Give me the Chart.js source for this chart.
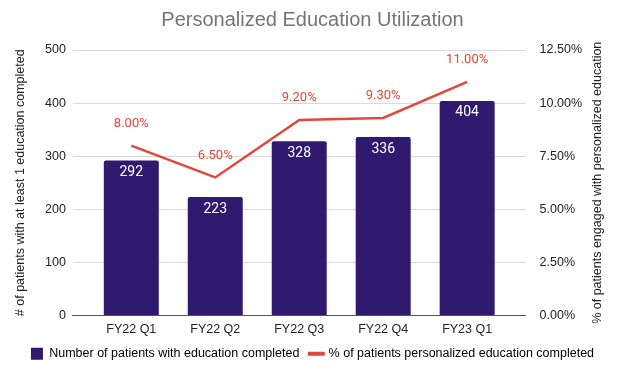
<!DOCTYPE html>
<html>
<head>
<meta charset="utf-8">
<script src="https://cdn.jsdelivr.net/npm/chart.js@4"></script>
<style>
  html, body { margin: 0; padding: 0; background: #fff; }
  #wrap { width: 620px; height: 374px; }
</style>
</head>
<body>
<div id="wrap"><canvas id="chart" width="620" height="374"></canvas></div>
<script>
const quarters = ["FY22 Q1", "FY22 Q2", "FY22 Q3", "FY22 Q4", "FY23 Q1"];
const patientsCompleted = [292, 223, 328, 336, 404];
const pctEngaged = [0.08, 0.065, 0.092, 0.093, 0.11];

const barColor = "#2f1a6f";
const lineColor = "#e0483c";
const font = "Arial, 'Liberation Sans', sans-serif";
const fs = 12.5;
const rightTitle = "% of patients engaged with personalized education";

// x is a linear scale so the plot can have some room left/right of the outer bars
const barPoints = patientsCompleted.map((v, i) => ({ x: i, y: v }));
const linePoints = pctEngaged.map((v, i) => ({ x: i, y: v }));

// value labels on bars / points, plus the right axis title (reads bottom-up like the left one)
const extras = {
  id: "extras",
  afterDatasetsDraw(chart) {
    const ctx = chart.ctx;
    ctx.save();
    ctx.textAlign = "center";
    ctx.textBaseline = "middle";
    ctx.font = "14px Roboto, " + font;
    chart.getDatasetMeta(1).data.forEach((bar, i) => {
      ctx.fillStyle = "#ffffff";
      ctx.fillText(patientsCompleted[i], bar.x, bar.y + 12);
    });
    ctx.font = "13px Roboto, " + font;
    chart.getDatasetMeta(0).data.forEach((pt, i) => {
      ctx.fillStyle = lineColor;
      ctx.fillText((pctEngaged[i] * 100).toFixed(2) + "%", pt.x, pt.y - 22);
    });

    const area = chart.chartArea;
    ctx.translate(598, (area.top + area.bottom) / 2);
    ctx.rotate(-Math.PI / 2);
    ctx.font = fs + "px " + font;
    ctx.fillStyle = "#222";
    ctx.fillText(rightTitle, 0, 0);
    ctx.restore();
  }
};

new Chart(document.getElementById("chart"), {
  data: {
    datasets: [
      {
        type: "line",
        label: "% of patients personalized education completed",
        data: linePoints,
        yAxisID: "y1",
        borderColor: lineColor,
        backgroundColor: lineColor,
        borderWidth: 2.5,
        pointRadius: 0,
        tension: 0,
        order: 0,
      },
      {
        type: "bar",
        label: "Number of patients with education completed",
        data: barPoints,
        yAxisID: "y",
        backgroundColor: barColor,
        borderRadius: 2,
        borderSkipped: "bottom",
        categoryPercentage: 1,
        barPercentage: 0.655,
        order: 1,
      },
    ],
  },
  options: {
    responsive: false,
    animation: false,
    layout: { padding: { left: 9, right: 4, top: 4, bottom: 4 } },
    plugins: {
      title: {
        display: true,
        text: "Personalized Education Utilization",
        color: "#757575",
        font: { family: font, size: 20, weight: "normal" },
        padding: { top: 4, bottom: 18 },
      },
      legend: {
        position: "bottom",
        labels: {
          color: "#222",
          font: { family: font, size: fs },
          usePointStyle: true,
          boxWidth: 12,
          boxHeight: 12,
          padding: 11,
          generateLabels() {
            return [
              {
                text: "Number of patients with education completed",
                fillStyle: barColor,
                strokeStyle: barColor,
                lineWidth: 0,
                pointStyle: "rect",
                datasetIndex: 1,
              },
              {
                text: "% of patients personalized education completed",
                fillStyle: lineColor,
                strokeStyle: lineColor,
                lineWidth: 4,
                pointStyle: "line",
                datasetIndex: 0,
              },
            ];
          },
        },
      },
      tooltip: { enabled: false },
    },
    scales: {
      x: {
        type: "linear",
        offset: false,
        min: -0.696,
        max: quarters.length - 1 + 0.696,
        grid: { display: false, offset: false },
        border: { color: "#555", width: 1 },
        ticks: {
          stepSize: 1,
          includeBounds: false,
          color: "#222",
          font: { family: font, size: fs },
          padding: -1,
          maxRotation: 0,
          autoSkip: false,
          callback: (v) => (Number.isInteger(v) ? quarters[v] : ""),
        },
      },
      y: {
        position: "left",
        min: 0,
        max: 500,
        ticks: { stepSize: 100, color: "#222", font: { family: font, size: fs }, padding: 7 },
        grid: { color: "#d9d9d9", drawTicks: false },
        border: { display: false },
        title: {
          display: true,
          text: "# of patients with at least 1 education completed",
          color: "#222",
          font: { family: font, size: fs },
          padding: { top: 4, bottom: 10 },
        },
      },
      y1: {
        position: "right",
        min: 0,
        max: 0.125,
        ticks: {
          stepSize: 0.025,
          color: "#222",
          font: { family: font, size: fs },
          padding: 6,
          callback: (v) => (v * 100).toFixed(2) + "%",
        },
        grid: { display: false },
        border: { display: false },
        // leave room for the hand-drawn axis title
        afterFit: (scale) => { scale.width += 28; },
      },
    },
  },
  plugins: [extras],
});
</script>
</body>
</html>
